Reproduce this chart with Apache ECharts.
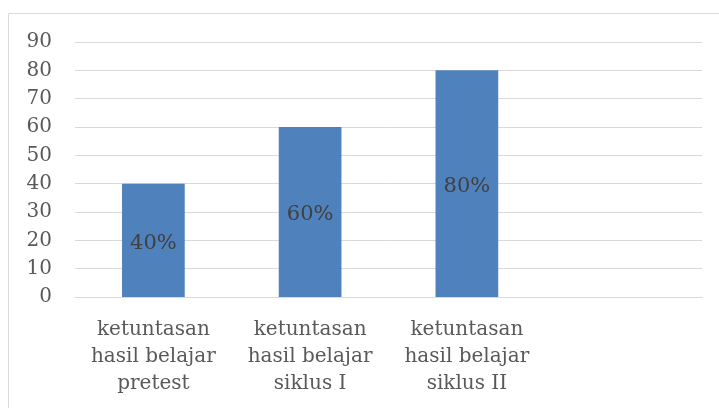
<!DOCTYPE html>
<html><head><meta charset="utf-8">
<script src="https://cdn.jsdelivr.net/npm/echarts@6/dist/echarts.min.js"></script>
<style>html,body{margin:0;padding:0;background:#fff}#c{width:719px;height:408px}</style>
</head><body><div id="c"></div>
<script>
const categories = ['ketuntasan\nhasil belajar\npretest', 'ketuntasan\nhasil belajar\nsiklus I', 'ketuntasan\nhasil belajar\nsiklus II', ''];
const values = [40, 60, 80, null];
const labels = ['40%', '60%', '80%', ''];
const yTicks = { min: 0, max: 90, interval: 10 };

const FONT = 'DejaVu Serif';
const chart = echarts.init(document.getElementById('c'));
chart.setOption({
  animation: false,
  graphic: [{ type: 'rect', shape: { x: 8.5, y: 13.5, width: 720, height: 400 }, style: { fill: 'none', stroke: '#d9d9d9', lineWidth: 1 }, silent: true }],
  grid: { left: 75, right: 17, top: 42, bottom: 111, containLabel: false },
  xAxis: {
    type: 'category', data: categories,
    axisLine: { show: true, lineStyle: { color: '#d9d9d9', width: 1 } },
    axisTick: { show: false },
    axisLabel: { interval: 0, color: '#595959', fontFamily: FONT, fontSize: 20, lineHeight: 27, margin: 19 }
  },
  yAxis: {
    type: 'value', min: yTicks.min, max: yTicks.max, interval: yTicks.interval,
    axisLine: { show: false }, axisTick: { show: false },
    splitLine: { lineStyle: { color: '#d9d9d9', width: 1 } },
    axisLabel: { color: '#595959', fontFamily: FONT, fontSize: 20, margin: 23 }
  },
  series: [{
    type: 'bar', data: values, barWidth: '40%',
    itemStyle: { color: '#4f81bd' },
    label: { show: true, position: 'inside', offset: [0, 3], color: '#404040', fontFamily: FONT, fontSize: 21,
      formatter: p => labels[p.dataIndex] }
  }]
});
</script></body></html>
